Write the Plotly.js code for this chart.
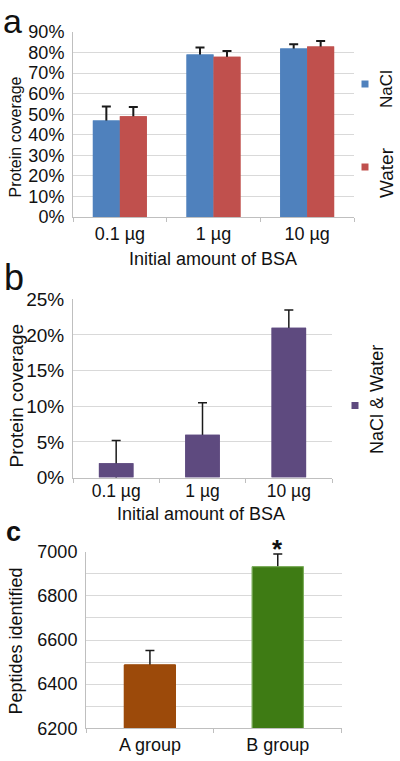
<!DOCTYPE html>
<html>
<head>
<meta charset="utf-8">
<script src="https://cdn.plot.ly/plotly-3.0.1.min.js"></script>
<style>
html,body{margin:0;padding:0;background:#fff;}
#chart{width:400px;height:761px;}
</style>
</head>
<body>
<div id="chart"></div>
<script>
// ---- data ----
const bsaAmounts = ["0.1 µg", "1 µg", "10 µg"];
const naclCoverage = [0.47, 0.79, 0.82];
const naclError = [0.067, 0.034, 0.021];
const waterCoverage = [0.49, 0.78, 0.83];
const waterError = [0.045, 0.027, 0.026];
const combinedCoverage = [0.02, 0.06, 0.21];
const combinedError = [0.032, 0.045, 0.025];
const groups = ["A group", "B group"];
const peptides = [6487, 6932];
const peptidesError = [65, 58];

const W = 400, H = 761;
const px = v => v / W;
const py = v => 1 - v / H;
const FONT = "Liberation Sans, Arial, sans-serif";
const err = (a, thick) => ({type: "data", symmetric: true, array: a,
  color: "#1a1a1a", thickness: thick, width: 4.5});

const NACL = "#4F81BD", WATER = "#C0504D", PURPLE = "#5E4A7F";
const GROUP_COLORS = ["#9C4A0A", "#3E7B14"];
const GROUP_LINES = ["#9C4A0A", "#7FAF5F"];

// bars carrying error bars (drawn first) and identical bars drawn over them,
// so only the upper half of each error bar remains visible
function pair(base, e, thick) {
  const under = Object.assign({}, base, {error_y: err(e, thick)});
  const over = Object.assign({}, base, {hoverinfo: "skip"});
  return [under, over];
}
const aNacl = {type: "bar", x: bsaAmounts, y: naclCoverage, name: "NaCl", xaxis: "x", yaxis: "y",
  offset: -0.288, width: 0.288, marker: {color: NACL}};
const aWater = {type: "bar", x: bsaAmounts, y: waterCoverage, name: "Water", xaxis: "x", yaxis: "y",
  offset: 0, width: 0.288, marker: {color: WATER}};
const bComb = {type: "bar", x: bsaAmounts, y: combinedCoverage, name: "NaCl & Water", xaxis: "x2", yaxis: "y2",
  offset: -0.2, width: 0.4, marker: {color: PURPLE}};
const cPep = {type: "bar", x: groups, y: peptides, name: "Peptides", xaxis: "x3", yaxis: "y3",
  offset: -0.2, width: 0.4, marker: {color: GROUP_COLORS, line: {color: GROUP_LINES, width: 1}}};

const pa1 = pair(aNacl, naclError, 2), pa2 = pair(aWater, waterError, 2);
const pb = pair(bComb, combinedError, 1.5), pc = pair(cPep, peptidesError, 1.5);
const traces = [pa1[0], pa2[0], pa1[1], pa2[1], pb[0], pb[1], pc[0], pc[1]];

const tf = {family: FONT, size: 18, color: "#111"};
const xCommon = {type: "category", showgrid: false, showline: true, linecolor: "#BFBFBF", linewidth: 1,
  ticks: "outside", tickson: "boundaries", ticklen: 4, tickcolor: "#BFBFBF", tickfont: tf, fixedrange: true};
const yCommon = {showgrid: true, gridcolor: "#D9D9D9", gridwidth: 1, showline: true, linecolor: "#BFBFBF",
  ticks: "", tickfont: tf, zeroline: false, ticklabelstandoff: 4, fixedrange: true};

function label(text, x, y, size, opts) {
  return Object.assign({text: text, xref: "paper", yref: "paper", x: px(x), y: py(y), showarrow: false,
    font: {family: FONT, size: size, color: "#111"}, xanchor: "center", yanchor: "middle"}, opts || {});
}

const layout = {
  width: W, height: H,
  margin: {l: 0, r: 0, t: 0, b: 0},
  paper_bgcolor: "#fff", plot_bgcolor: "#fff",
  showlegend: false,
  font: {family: FONT, color: "#111"},
  xaxis: Object.assign({}, xCommon, {domain: [px(73), px(354)], anchor: "y"}),
  yaxis: Object.assign({}, yCommon, {domain: [py(217), py(32)], anchor: "x", range: [0, 0.9], dtick: 0.1,
    tickformat: ".0%"}),
  xaxis2: Object.assign({}, xCommon, {domain: [px(73), px(332)], anchor: "y2", ticklabelstandoff: -3,
    tickfont: {family: FONT, size: 17.5, color: "#111"}}),
  yaxis2: Object.assign({}, yCommon, {domain: [py(477.5), py(299.3)], anchor: "x2", range: [0, 0.25], dtick: 0.05,
    tickformat: ".0%", tickfont: {family: FONT, size: 19, color: "#111"}}),
  xaxis3: Object.assign({}, xCommon, {domain: [px(86), px(341.7)], anchor: "y3"}),
  yaxis3: Object.assign({}, yCommon, {domain: [py(728.3), py(551.7)], anchor: "x3", range: [6200, 7000], dtick: 200,
    tickformat: "d", minor: {dtick: 100, showgrid: true, gridcolor: "#D9D9D9", ticks: ""}}),
  shapes: [
    {type: "rect", xref: "paper", yref: "paper", x0: px(361.5), x1: px(368.5), y0: py(87.5), y1: py(80.5),
     fillcolor: NACL, line: {width: 0}},
    {type: "rect", xref: "paper", yref: "paper", x0: px(361.5), x1: px(368.5), y0: py(170.5), y1: py(163.5),
     fillcolor: WATER, line: {width: 0}},
    {type: "rect", xref: "paper", yref: "paper", x0: px(351.5), x1: px(358.5), y0: py(409), y1: py(402),
     fillcolor: PURPLE, line: {width: 0}}
  ],
  annotations: [
    label("a", 12, 0, 34, {yanchor: "top"}),
    label("b", 14, 277, 36),
    label("<b>c</b>", 13, 532, 27),
    label("Protein coverage", 15, 137.5, 16, {textangle: -90}),
    label("Initial amount of BSA", 213, 259, 18),
    label("Protein coverage", 15.5, 396, 19, {textangle: -90}),
    label("Initial amount of BSA", 201, 514, 18),
    label("Peptides identified", 15, 641.5, 18, {textangle: -90}),
    label("NaCl", 386, 89, 17, {textangle: -90}),
    label("Water", 386, 173, 19, {textangle: -90}),
    label("NaCl & Water", 377, 400, 18, {textangle: -90}),
    {text: "<b>*</b>", xref: "x3", yref: "y3", x: groups[1], y: peptides[1] + peptidesError[1], yshift: 5,
     showarrow: false, font: {family: FONT, size: 26, color: "#111"}, xanchor: "center", yanchor: "middle"}
  ]
};

Plotly.newPlot("chart", traces, layout, {staticPlot: true, displayModeBar: false});
</script>
</body>
</html>
